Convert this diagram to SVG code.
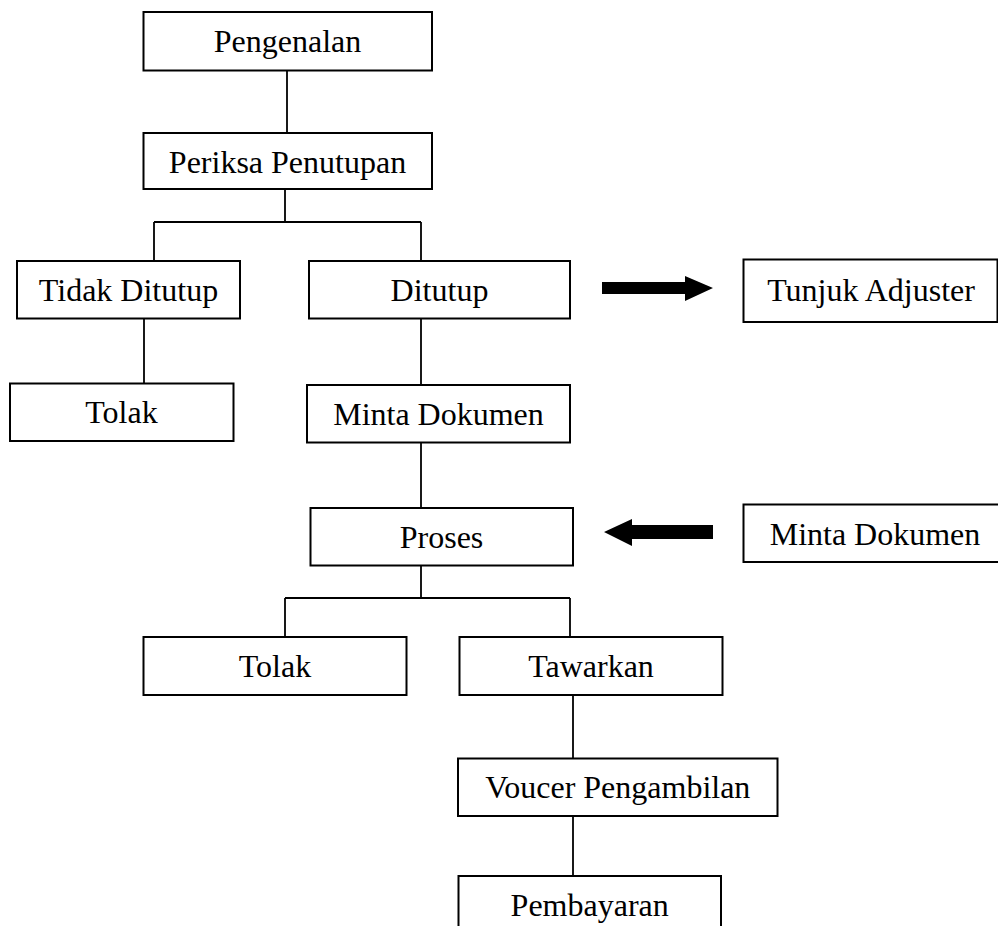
<svg xmlns="http://www.w3.org/2000/svg" width="998" height="926" viewBox="0 0 998 926">
<style>
.box{fill:#fff;stroke:#000;stroke-width:2}
.lbl{font-family:"Liberation Serif","Times New Roman",serif;font-size:32px;fill:#000;text-anchor:middle}
.ln{fill:none;stroke:#000;stroke-width:1.8}
.arr{fill:#000;stroke:none}
</style>
<rect width="998" height="926" fill="#fff"/>
<g id="connectors">
<path class="ln" d="M287 70V133"/>
<path class="ln" d="M285 189V222M154 222H421M154 222V261M421 222V261"/>
<path class="ln" d="M144 319V383"/>
<path class="ln" d="M421 319V385"/>
<path class="ln" d="M421 442V508"/>
<path class="ln" d="M421 565V598M285 598H570M285 598V637M570 598V637"/>
<path class="ln" d="M573 695V758"/>
<path class="ln" d="M573 816V876"/>
<polygon class="arr" points="602,282 685,282 685,276 713,288 685,301 685,294 602,294"/>
<polygon class="arr" points="713,525 632,525 632,519 604,532 632,546 632,539 713,539"/>
</g>
<g id="n-pengenalan"><rect class="box" x="143.5" y="12" width="288.5" height="58.5"/><text class="lbl" x="287.5" y="52">Pengenalan</text></g>
<g id="n-periksa"><rect class="box" x="143.5" y="133" width="288.5" height="56"/><text class="lbl" x="287.5" y="173">Periksa Penutupan</text></g>
<g id="n-tidak"><rect class="box" x="17" y="261" width="223" height="57.5"/><text class="lbl" x="128.5" y="301">Tidak Ditutup</text></g>
<g id="n-ditutup"><rect class="box" x="309" y="261" width="261" height="57.5"/><text class="lbl" x="439.5" y="301">Ditutup</text></g>
<g id="n-tunjuk"><rect class="box" x="743.5" y="259.5" width="254" height="62.5"/><text class="lbl" x="871" y="301">Tunjuk Adjuster</text></g>
<g id="n-tolak1"><rect class="box" x="10" y="383.5" width="223.5" height="57.5"/><text class="lbl" x="121.5" y="423">Tolak</text></g>
<g id="n-minta1"><rect class="box" x="307" y="385" width="263" height="57.5"/><text class="lbl" x="438.5" y="425">Minta Dokumen</text></g>
<g id="n-proses"><rect class="box" x="310.5" y="508" width="262.5" height="57.5"/><text class="lbl" x="441.5" y="548">Proses</text></g>
<g id="n-minta2"><rect class="box" x="743.5" y="504.5" width="263" height="57.5"/><text class="lbl" x="875" y="545">Minta Dokumen</text></g>
<g id="n-tolak2"><rect class="box" x="143.5" y="637" width="263" height="58"/><text class="lbl" x="275" y="677">Tolak</text></g>
<g id="n-tawarkan"><rect class="box" x="459.5" y="637" width="263" height="58"/><text class="lbl" x="591" y="677">Tawarkan</text></g>
<g id="n-voucer"><rect class="box" x="458" y="758.5" width="319.5" height="57.5"/><text class="lbl" x="617.8" y="798">Voucer Pengambilan</text></g>
<g id="n-pembayaran"><rect class="box" x="458.5" y="876" width="262.5" height="70"/><text class="lbl" x="589.7" y="916">Pembayaran</text></g>
</svg>
